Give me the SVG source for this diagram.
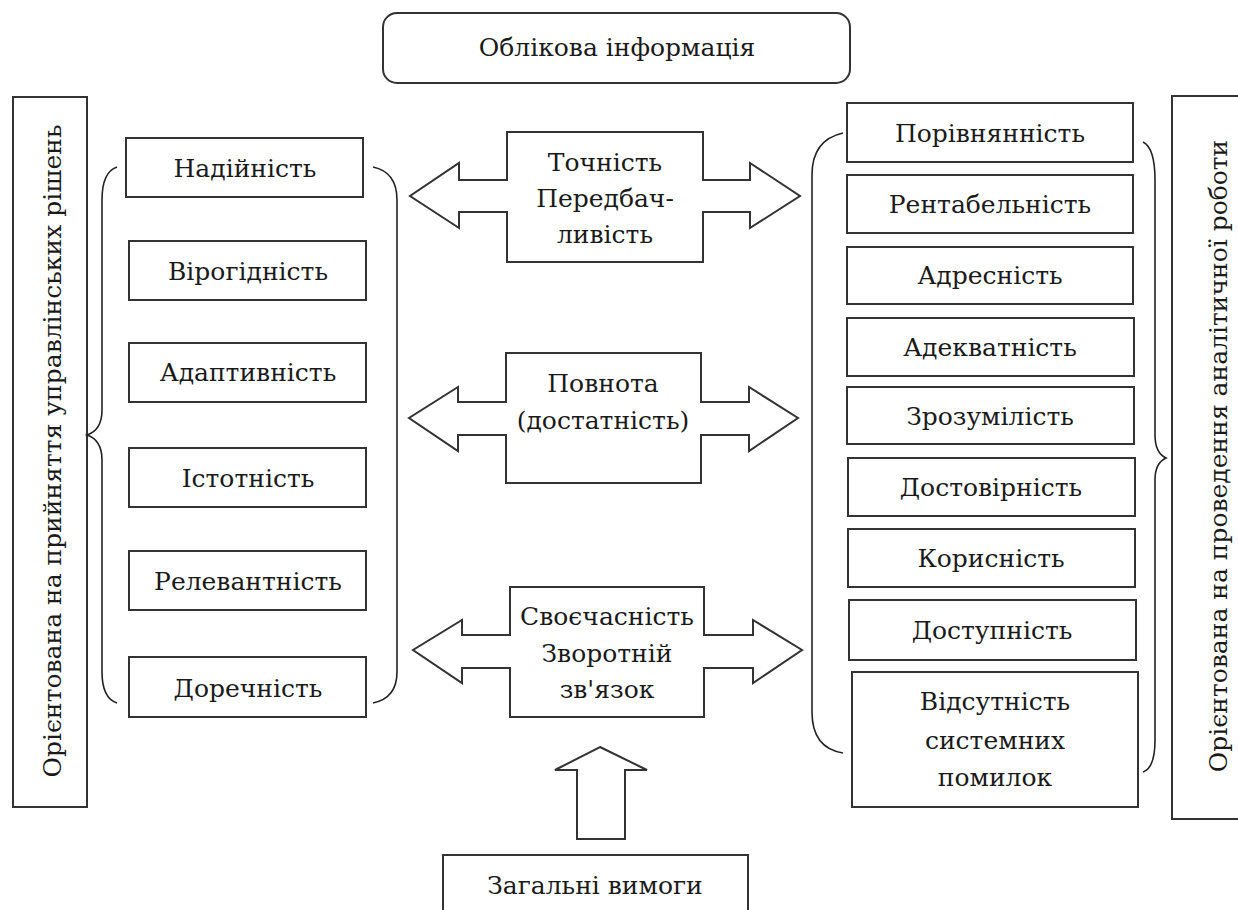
<svg xmlns="http://www.w3.org/2000/svg" width="1238" height="910" viewBox="0 0 1238 910">
  <style>
    .box { fill: #fff; stroke: #333; stroke-width: 2; }
    .shape { fill: #fff; stroke: #333; stroke-width: 2; stroke-linejoin: miter; }
    .brace { fill: none; stroke: #222; stroke-width: 1.6; }
    .lbl { font-family: "DejaVu Serif", serif; font-size: 25px; fill: #1a1a1a; text-anchor: middle; dominant-baseline: central; }
  </style>
  <rect x="0" y="0" width="1238" height="910" fill="#fff"/>

  <!-- header -->
  <g id="oblikova">
    <rect class="box" x="383" y="13" width="467" height="70" rx="14"/>
    <text class="lbl" x="617" y="47">Облікова інформація</text>
  </g>

  <!-- side labels -->
  <g id="left-orientation">
    <rect class="box" x="13" y="97" width="74" height="710"/>
    <text class="lbl" transform="translate(52 451) rotate(-90)">Орієнтована на прийняття управлінських рішень</text>
  </g>
  <g id="right-orientation">
    <rect class="box" x="1172" y="96" width="80" height="723"/>
    <text class="lbl" transform="translate(1218 456) rotate(-90)">Орієнтована на проведення аналітичної роботи</text>
  </g>

  <!-- left column -->
  <g id="nadiinist"><rect class="box" x="126" y="138" width="237" height="59"/><text class="lbl" x="245" y="168">Надійність</text></g>
  <g id="virohidnist"><rect class="box" x="129" y="241" width="237" height="59"/><text class="lbl" x="248" y="271">Вірогідність</text></g>
  <g id="adaptyvnist"><rect class="box" x="129" y="343" width="237" height="59"/><text class="lbl" x="248" y="372">Адаптивність</text></g>
  <g id="istotnist"><rect class="box" x="129" y="448" width="237" height="59"/><text class="lbl" x="248" y="478">Істотність</text></g>
  <g id="relevantnist"><rect class="box" x="129" y="551" width="237" height="59"/><text class="lbl" x="248" y="581">Релевантність</text></g>
  <g id="dorechnist"><rect class="box" x="129" y="657" width="237" height="60"/><text class="lbl" x="248" y="688">Доречність</text></g>

  <!-- right column -->
  <g id="porivnyannist"><rect class="box" x="847" y="103" width="286" height="59"/><text class="lbl" x="990" y="133">Порівнянність</text></g>
  <g id="rentabelnist"><rect class="box" x="847" y="175" width="286" height="58"/><text class="lbl" x="990" y="204">Рентабельність</text></g>
  <g id="adresnist"><rect class="box" x="847" y="247" width="286" height="57"/><text class="lbl" x="990" y="275">Адресність</text></g>
  <g id="adekvatnist"><rect class="box" x="847" y="318" width="287" height="58"/><text class="lbl" x="990" y="347">Адекватність</text></g>
  <g id="zrozumilist"><rect class="box" x="847" y="387" width="287" height="57"/><text class="lbl" x="990" y="416">Зрозумілість</text></g>
  <g id="dostovirnist"><rect class="box" x="848" y="458" width="287" height="58"/><text class="lbl" x="991" y="487">Достовірність</text></g>
  <g id="korysnist"><rect class="box" x="848" y="529" width="287" height="58"/><text class="lbl" x="991" y="558">Корисність</text></g>
  <g id="dostupnist"><rect class="box" x="849" y="600" width="287" height="60"/><text class="lbl" x="992" y="630">Доступність</text></g>
  <g id="vidsutnist">
    <rect class="box" x="852" y="672" width="286" height="135"/>
    <text class="lbl" x="995" y="701">Відсутність</text>
    <text class="lbl" x="995" y="740">системних</text>
    <text class="lbl" x="995" y="777">помилок</text>
  </g>

  <!-- central double arrows -->
  <g id="tochnist">
    <polygon class="shape" points="507,132 703,132 703,180 750,180 750,163 800,196 750,228 750,212 703,212 703,262 507,262 507,212 459,212 459,228 410,196 459,163 459,180 507,180"/>
    <text class="lbl" x="605" y="162">Точність</text>
    <text class="lbl" x="605" y="198">Передбач-</text>
    <text class="lbl" x="605" y="234">ливість</text>
  </g>
  <g id="povnota">
    <polygon class="shape" points="506,353 701,353 701,402 749,402 749,387 798,418 749,451 749,435 701,435 701,483 506,483 506,435 458,435 458,451 409,418 458,387 458,402 506,402"/>
    <text class="lbl" x="603" y="383">Повнота</text>
    <text class="lbl" x="603" y="420">(достатність)</text>
  </g>
  <g id="svoechasnist">
    <polygon class="shape" points="510,587 704,587 704,635 753,635 753,620 802,650 753,683 753,668 704,668 704,717 510,717 510,668 462,668 462,683 413,650 462,620 462,635 510,635"/>
    <text class="lbl" x="607" y="616">Своєчасність</text>
    <text class="lbl" x="607" y="653">Зворотній</text>
    <text class="lbl" x="607" y="689">зв'язок</text>
  </g>

  <!-- footer -->
  <g id="zahalni">
    <rect class="box" x="443" y="855" width="305" height="70"/>
    <text class="lbl" x="595" y="885">Загальні вимоги</text>
  </g>

  <!-- connectors: braces and the upward arrow -->
  <g id="connectors">
    <path class="brace" d="M117,167 Q102,172 102,200 L102,410 Q102,430 87,435 Q102,440 102,460 L102,672 Q102,698 117,703"/>
    <path class="brace" d="M373,167 Q397,172 397,200 L397,672 Q397,698 373,703"/>
    <path class="brace" d="M843,133 Q812,140 812,175 L812,712 Q812,748 843,753"/>
    <path class="brace" d="M1143,142 Q1155,148 1155,180 L1155,435 Q1155,453 1166,458 Q1155,463 1155,480 L1155,740 Q1155,768 1143,772"/>
    <polygon class="shape" points="600,747 647,770 625,770 625,839 577,839 577,770 555,770"/>
  </g>
</svg>
